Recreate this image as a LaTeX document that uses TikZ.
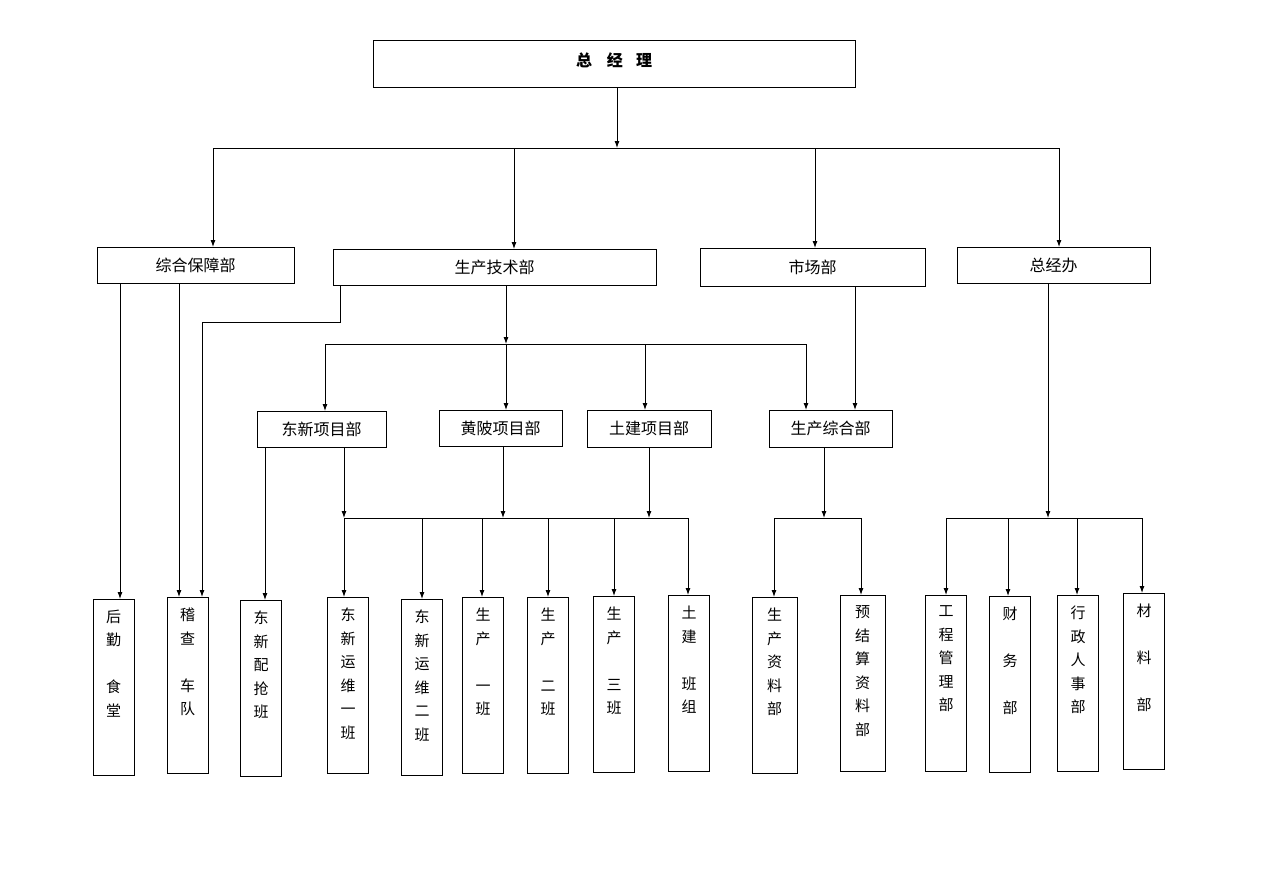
\documentclass[tikz,border=0pt]{standalone}
\usepackage{fontspec}
\newfontfamily\cjk{Noto Sans CJK SC}
\usetikzlibrary{arrows.meta}
\usetikzlibrary{positioning}
\tikzstyle{base}=[x=1pt, y=-1pt, line width=0.9pt, >={Latex[length=7pt,width=5pt]}]
\tikzstyle{unit}=[draw, line width=0.9pt, inner sep=0pt, outer sep=0pt, font=\cjk\fontsize{16}{16}\selectfont]
\tikzstyle{team}=[unit, anchor=north, minimum width=41, minimum height=176]
\tikzstyle{link}=[->]
\newcommand*{\vlabel}[1]{\parbox[c][176pt][t]{40pt}{\centering\fontsize{15}{23.5}\selectfont\vspace*{11pt}#1}}

\begin{document}
\begin{tikzpicture}[base]
    \useasboundingbox (0,0) rectangle (1262,892);
    % top
    \node [unit, minimum width=482, minimum height=47] (gm) at (614,63.5) {\raisebox{7pt}{\bfseries 总\hspace{15pt}经\hspace{13pt}理}};
    % departments
    \node [unit, minimum width=197, minimum height=36] (zhbz) at (195.5,265) {综合保障部};
    \node [unit, minimum width=323, minimum height=36] (scjs) at (494.5,267) {生产技术部};
    \node [unit, minimum width=225, minimum height=38] (scb) at (812.5,267) {市场部};
    \node [unit, minimum width=193, minimum height=36] (zjb) at (1053.5,265) {总经办};
    % projects
    \node [unit, minimum width=129, minimum height=36] (dxxm) at (321.5,429) {东新项目部};
    \node [unit, minimum width=123, minimum height=36] (hpxm) at (500.5,428) {黄陂项目部\hspace{18pt}};
    \node [unit, minimum width=124, minimum height=37] (tjxm) at (649,428.5) {土建项目部};
    \node [unit, minimum width=123, minimum height=37] (sczh) at (830.5,428.5) {生产综合部};
    % teams
    \node [team] (hq) at (113.5,599) {\vlabel{后\\勤\\\mbox{}\\食\\堂}};
    \node [team] (jc) at (187.5,597) {\vlabel{稽\\查\\\mbox{}\\车\\队}};
    \node [team] (dxpq) at (261,600) {\vlabel{东\\新\\配\\抢\\班}};
    \node [team] (yw1) at (348,597) {\vlabel{东\\新\\运\\维\\一\\班}};
    \node [team] (yw2) at (422,599) {\vlabel{东\\新\\运\\维\\二\\班}};
    \node [team] (sc1) at (483,597) {\vlabel{生\\产\\\mbox{}\\一\\班}};
    \node [team] (sc2) at (548,597) {\vlabel{生\\产\\\mbox{}\\二\\班}};
    \node [team] (sc3) at (614,596) {\vlabel{生\\产\\\mbox{}\\三\\班}};
    \node [team] (tjbz) at (689,595) {\vlabel{土\\建\\\mbox{}\\班\\组}};
    \node [team, minimum width=45] (sczl) at (774.5,597) {\vlabel{生\\产\\资\\料\\部}};
    \node [team, minimum width=45] (yjs) at (862.5,595) {\vlabel{预\\结\\算\\资\\料\\部}};
    \node [team] (gcgl) at (946,595) {\vlabel{工\\程\\管\\理\\部}};
    \node [team] (cw) at (1010,596) {\vlabel{财\\\mbox{}\\务\\\mbox{}\\部}};
    \node [team] (xzrs) at (1078,595) {\vlabel{行\\政\\人\\事\\部}};
    \node [team] (cl) at (1144,593) {\vlabel{材\\\mbox{}\\料\\\mbox{}\\部}};

    % general manager to departments
    \coordinate (j0) at (617,148);
    \coordinate (j1) at (213,148);
    \coordinate (j2) at (514,148);
    \coordinate (j3) at (815,148);
    \coordinate (j4) at (1059,148);
    \draw [link] (gm.south -| j0) -- (j0);
    \draw (j1) -- (j4);
    \draw [link] (j1) -- (j1 |- zhbz.north);
    \draw [link] (j2) -- (j2 |- scjs.north);
    \draw [link] (j3) -- (j3 |- scb.north);
    \draw [link] (j4) -- (j4 |- zjb.north);

    % support department
    \coordinate (k1) at (120,283);
    \coordinate (k2) at (179,283);
    \draw [link] (zhbz.south -| k1) -- (k1 |- hq.north);
    \draw [link] (zhbz.south -| k2) -- (k2 |- jc.north);
    \coordinate (e1) at (340,322);
    \coordinate (e2) at (202,322);
    \draw [link] (scjs.south -| e1) -- (e1) -- (e2) -- (e2 |- jc.north);

    % technical department to projects
    \coordinate (p0) at (506,344);
    \coordinate (p1) at (325,344);
    \coordinate (p3) at (645,344);
    \coordinate (p4) at (806,344);
    \draw [link] (scjs.south -| p0) -- (p0);
    \draw (p1) -- (p4);
    \draw [link] (p1) -- (p1 |- dxxm.north);
    \draw [link] (p0) -- (p0 |- hpxm.north);
    \draw [link] (p3) -- (p3 |- tjxm.north);
    \draw [link] (p4) -- (p4 |- sczh.north);
    \coordinate (s1) at (855,286);
    \draw [link] (scb.south -| s1) -- (s1 |- sczh.north);

    % projects to teams
    \coordinate (d1) at (265,447);
    \draw [link] (dxxm.south -| d1) -- (d1 |- dxpq.north);
    \coordinate (q1) at (344,518);
    \coordinate (q2) at (422,518);
    \coordinate (q3) at (482,518);
    \coordinate (q4) at (548,518);
    \coordinate (q5) at (614,518);
    \coordinate (q6) at (688,518);
    \coordinate (r2) at (503,518);
    \coordinate (r3) at (649,518);
    \draw [link] (dxxm.south -| q1) -- (q1);
    \draw [link] (hpxm.south -| r2) -- (r2);
    \draw [link] (tjxm.south -| r3) -- (r3);
    \draw (q1) -- (q6);
    \draw [link] (q1) -- (q1 |- yw1.north);
    \draw [link] (q2) -- (q2 |- yw2.north);
    \draw [link] (q3) -- (q3 |- sc1.north);
    \draw [link] (q4) -- (q4 |- sc2.north);
    \draw [link] (q5) -- (q5 |- sc3.north);
    \draw [link] (q6) -- (q6 |- tjbz.north);

    % production office
    \coordinate (g0) at (824,518);
    \coordinate (g1) at (774,518);
    \coordinate (g2) at (861,518);
    \draw [link] (sczh.south -| g0) -- (g0);
    \draw (g1) -- (g2);
    \draw [link] (g1) -- (g1 |- sczl.north);
    \draw [link] (g2) -- (g2 |- yjs.north);

    % general office
    \coordinate (h0) at (1048,518);
    \coordinate (h1) at (946,518);
    \coordinate (h2) at (1008,518);
    \coordinate (h3) at (1077,518);
    \coordinate (h4) at (1142,518);
    \draw [link] (zjb.south -| h0) -- (h0);
    \draw (h1) -- (h4);
    \draw [link] (h1) -- (h1 |- gcgl.north);
    \draw [link] (h2) -- (h2 |- cw.north);
    \draw [link] (h3) -- (h3 |- xzrs.north);
    \draw [link] (h4) -- (h4 |- cl.north);
\end{tikzpicture}
\end{document}
